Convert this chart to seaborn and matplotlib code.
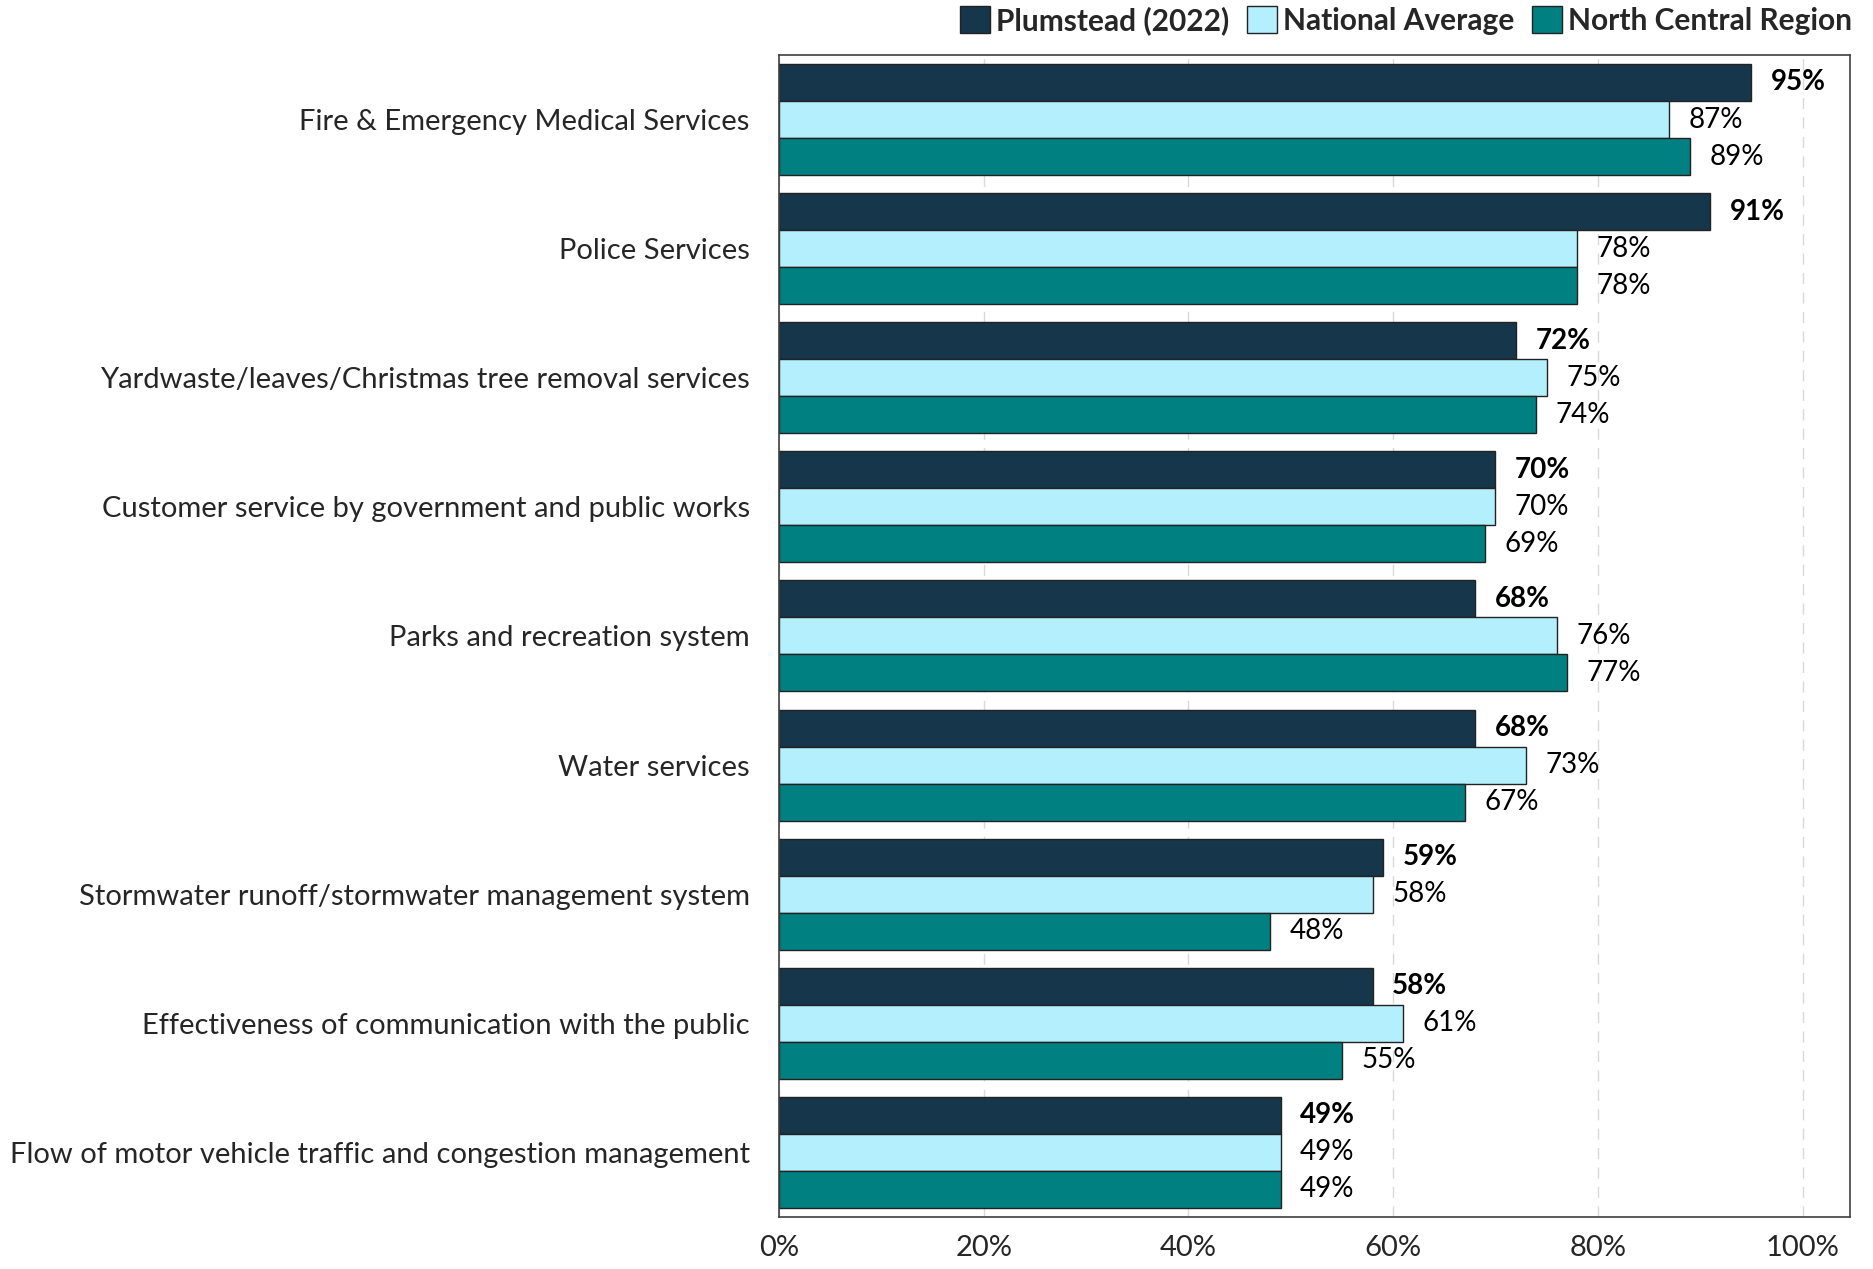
import pandas as pd
import seaborn as sns
import matplotlib.pyplot as plt
from matplotlib.ticker import PercentFormatter

categories = [
    "Fire & Emergency Medical Services",
    "Police Services",
    "Yardwaste/leaves/Christmas tree removal services",
    "Customer service by government and public works",
    "Parks and recreation system",
    "Water services",
    "Stormwater runoff/stormwater management system",
    "Effectiveness of communication with the public",
    "Flow of motor vehicle traffic and congestion management",
]
series = ["Plumstead (2022)", "National Average", "North Central Region"]
plumstead = [95, 91, 72, 70, 68, 68, 59, 58, 49]
national = [87, 78, 75, 70, 76, 73, 58, 61, 49]
north_central = [89, 78, 74, 69, 77, 67, 48, 55, 49]
colors = ["#16374b", "#b3effd", "#008080"]

df = pd.DataFrame({
    "category": categories * 3,
    "series": [s for s in series for _ in categories],
    "value": plumstead + national + north_central,
})

sns.set_style("white")
plt.rcParams["font.family"] = ["Lato", "DejaVu Sans"]

fig, ax = plt.subplots(figsize=(18.74, 12.69), dpi=100)
fig.subplots_adjust(left=0.4157, right=0.987, top=0.9567, bottom=0.041)

sns.barplot(data=df, y="category", x="value", hue="series", palette=colors,
            orient="h", width=0.86, edgecolor="#222222", linewidth=1.0,
            saturation=1, ax=ax, zorder=2)

for i, cont in enumerate(ax.containers):
    ax.bar_label(cont, labels=[f"{v:.0f}%" for v in cont.datavalues], padding=14,
                 fontsize=20, fontweight="bold" if i == 0 else "normal", color="black")

ax.set_xlim(0, 104.6)
ax.set_ylim(8.5, -0.5)
ax.xaxis.set_major_formatter(PercentFormatter(decimals=0))
ax.set_xticks([0, 20, 40, 60, 80, 100])
ax.grid(axis="x", color="#d9d9d9", linestyle=(0, (8, 6)), linewidth=1.0, zorder=0)
ax.grid(axis="y", visible=False)
ax.set_axisbelow(True)
ax.tick_params(axis="x", length=0, pad=13, labelsize=21)
ax.tick_params(axis="y", length=0, pad=21, labelsize=21)
ax.set_xlabel("")
ax.set_ylabel("")
for sp in ax.spines.values():
    sp.set_visible(True)
    sp.set_color("#404040")
    sp.set_linewidth(1.2)

ax.legend(loc="lower right", bbox_to_anchor=(1.008, 1.012), ncol=3, frameon=False,
          prop={"weight": "bold", "size": 21.5}, handlelength=1.0, handleheight=1.0,
          handletextpad=0.2, columnspacing=0.6, borderaxespad=0.1, borderpad=0.1)

plt.savefig("out.png", dpi=100)
